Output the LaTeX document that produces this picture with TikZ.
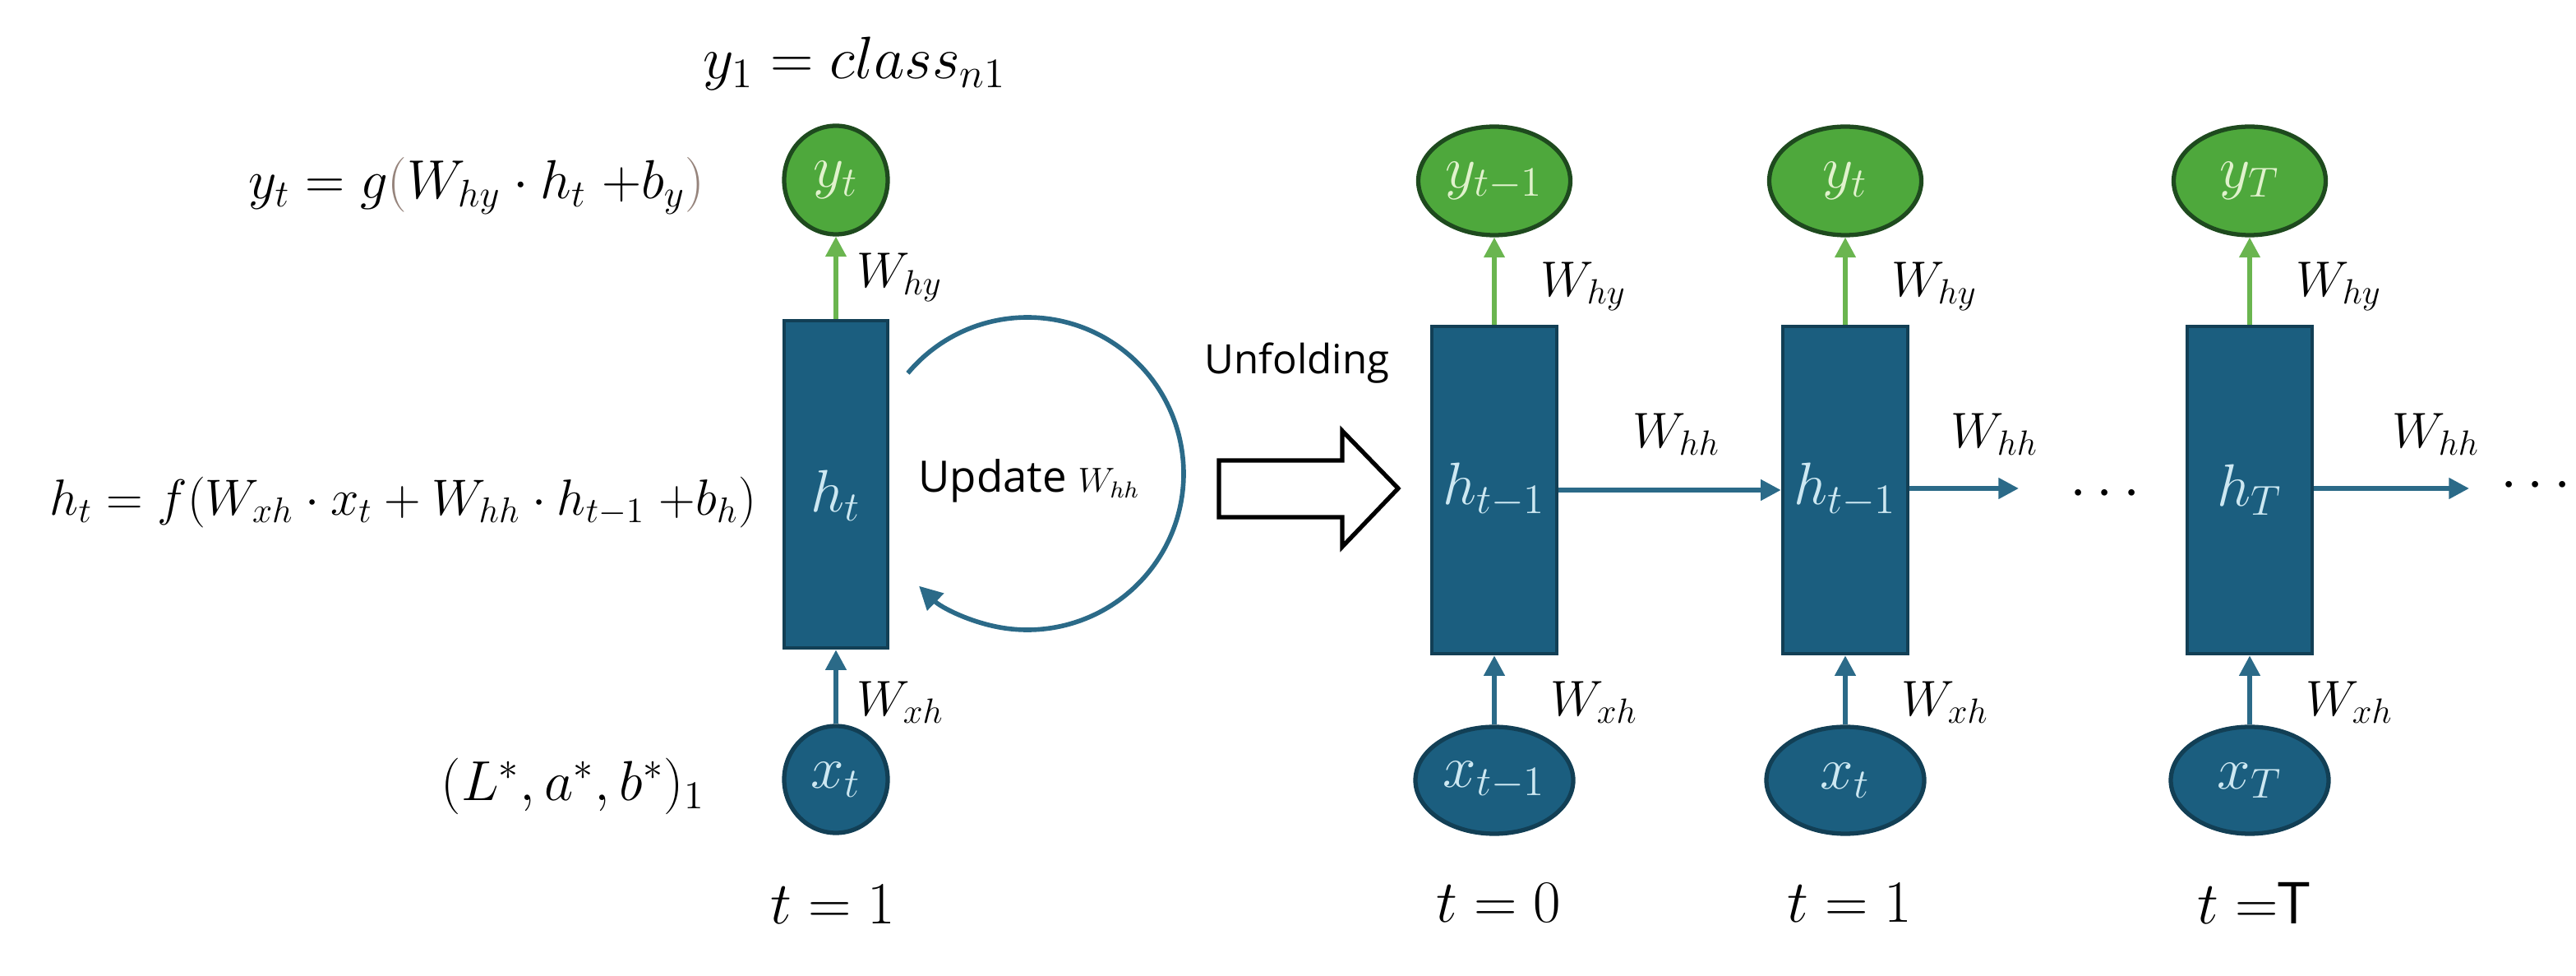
\RequirePackage{fix-cm}
\documentclass[tikz,border=0pt]{standalone}
\usepackage{fontspec}
\newfontfamily\labelsans{Open Sans}
\usetikzlibrary{arrows.meta,shapes.geometric}
\definecolor{cellblue}{RGB}{27,94,127}
\definecolor{celledge}{RGB}{18,63,85}
\definecolor{outgreen}{RGB}{78,168,60}
\definecolor{outedge}{RGB}{30,74,30}
\definecolor{linkgreen}{RGB}{106,181,79}
\definecolor{linkblue}{RGB}{43,106,136}
\definecolor{celltext}{RGB}{205,232,242}
\definecolor{outtext}{RGB}{225,242,205}
\definecolor{parengray}{RGB}{150,132,124}

\begin{document}
\begin{tikzpicture}[
    cell/.style={draw=celledge, line width=1.3pt, fill=cellblue, minimum width=#1,
        minimum height=3.98cm, inner sep=0pt, text=celltext, font=\fontsize{20.7}{24}\selectfont},
    outnode/.style={ellipse, draw=outedge, line width=1.5pt, fill=outgreen, minimum width=#1,
        minimum height=1.32cm, inner sep=0pt, text=outtext, font=\fontsize{20.7}{24}\selectfont},
    innode/.style={ellipse, draw=celledge, line width=1.5pt, fill=cellblue, minimum width=#1,
        minimum height=1.30cm, inner sep=0pt, text=celltext, font=\fontsize{20.7}{24}\selectfont},
    eq/.style={inner sep=0pt, font=\fontsize{20.7}{24}\selectfont},
    tlabel/.style={inner sep=0pt, font=\fontsize{20.7}{24}\selectfont},
    wlabel/.style={inner sep=0pt, anchor=west, font=\fontsize{17.3}{20}\selectfont},
    sanslabel/.style={inner sep=0pt, font=\labelsans\fontsize{14}{17}\selectfont},
    upgreen/.style={linkgreen, line width=1.6pt, -{Triangle[length=7pt,width=7pt]}},
    upblue/.style={linkblue, line width=1.6pt, -{Triangle[length=7pt,width=7pt]}},
]

    \useasboundingbox (0,0) rectangle (31.34,11.86);

    % --- Red plegada (t = 1) ---
    \node[outnode=1.26cm] (y0) at (10.17,9.67) {$y_t$};
    \node[cell=1.26cm] (h0) at (10.17,5.97) {\raisebox{-0.34cm}[0pt][0pt]{$h_t$}};
    \node[innode=1.26cm] (x0) at (10.17,2.38) {$x_t$};
    \draw[upgreen] (h0) -- (y0);
    \draw[upblue] (x0) -- (h0);
    \node[wlabel] (why0) at (10.42,8.49) {$W_{hy}$};
    \node[wlabel] (wxh0) at (10.42,3.32) {$W_{xh}$};

    % ecuaciones de la izquierda
    \node[eq, anchor=west] (cls) at (8.55,11.09) {$y_1 = class_{n1}$};
    \node[eq, anchor=east, font=\fontsize{19}{23}\selectfont] (yeq) at (8.58,9.60)
        {$y_t = g\textcolor{parengray}{\bigl(}W_{hy}\cdot h_t \;{+}b_y\textcolor{parengray}{\bigr)}$};
    \node[eq, anchor=east, font=\fontsize{17.6}{21}\selectfont] (heq) at (9.21,5.75)
        {$h_t = f(W_{xh}\cdot x_t + W_{hh}\cdot h_{t-1} \;{+}b_h)$};
    \node[eq, anchor=east, font=\fontsize{19.5}{23}\selectfont] (lab) at (8.58,2.30) {$(L^*, a^*, b^*)_1$};
    \node[tlabel] (t0) at (10.13,0.86) {$t = 1$};

    % bucle de recurrencia
    \coordinate (loopc) at (12.50,6.10);
    \draw[linkblue, line width=1.6pt, -{Triangle[length=8pt,width=8pt]}]
        ([shift={(140:1.9)}]loopc) arc[start angle=140, end angle=-134, radius=1.9];
    \node[sanslabel, font=\labelsans\fontsize{15}{18}\selectfont] (upd) at (12.52,6.01)
        {Update {\fontsize{12}{14}\selectfont$W_{hh}$}};

    % flecha de despliegue
    \node[sanslabel] (unf) at (15.78,7.44) {Unfolding};
    \draw[black, line width=1.5pt, fill=white, line join=miter]
        (14.83,6.26) -- (16.33,6.26) -- (16.33,6.62) -- (17.01,5.92)
        -- (16.33,5.21) -- (16.33,5.57) -- (14.83,5.57) -- cycle;

    % --- Red desplegada ---
    \foreach \i/\cx/\hname/\yname/\xname/\tlab in {
        1/18.18/{h_{t-1}}/{y_{t-1}}/{x_{t-1}}/{$t = 0$},
        2/22.45/{h_{t-1}}/{y_t}/{x_t}/{$t = 1$},
        3/27.37/{h_T}/{y_T}/{x_T}/{$t =${\labelsans\fontsize{20}{24}\selectfont T}}}{
        \node[cell=1.52cm] (h\i) at (\cx,5.90) {$\hname$};
        \node[outnode=1.85cm] (y\i) at (\cx,9.66) {$\yname$};
        \node[innode=1.92cm] (x\i) at (\cx,2.37) {$\xname$};
        \draw[upgreen] (h\i) -- (y\i);
        \draw[upblue] (x\i) -- (h\i);
        \node[wlabel] (why\i) at ({\cx+0.56},8.38) {$W_{hy}$};
        \node[wlabel] (wxh\i) at ({\cx+0.68},3.32) {$W_{xh}$};
        \node[tlabel] (t\i) at ({\cx+0.05},0.88) {\tlab};
    }

    % conexiones recurrentes
    \coordinate (end2) at (24.56,5.92);
    \coordinate (end3) at (30.04,5.92);
    \draw[upblue] (h1) -- (h2);
    \draw[upblue] (h2.east |- end2) -- (end2);
    \draw[upblue] (h3.east |- end3) -- (end3);
    \node[wlabel] (whh1) at (19.86,6.58) {$W_{hh}$};
    \node[wlabel] (whh2) at (23.73,6.58) {$W_{hh}$};
    \node[wlabel] (whh3) at (29.10,6.58) {$W_{hh}$};
    \node[eq] (dots1) at (25.61,5.85) {$\cdots$};
    \node[eq] (dots2) at (30.85,5.95) {$\cdots$};

\end{tikzpicture}
\end{document}
